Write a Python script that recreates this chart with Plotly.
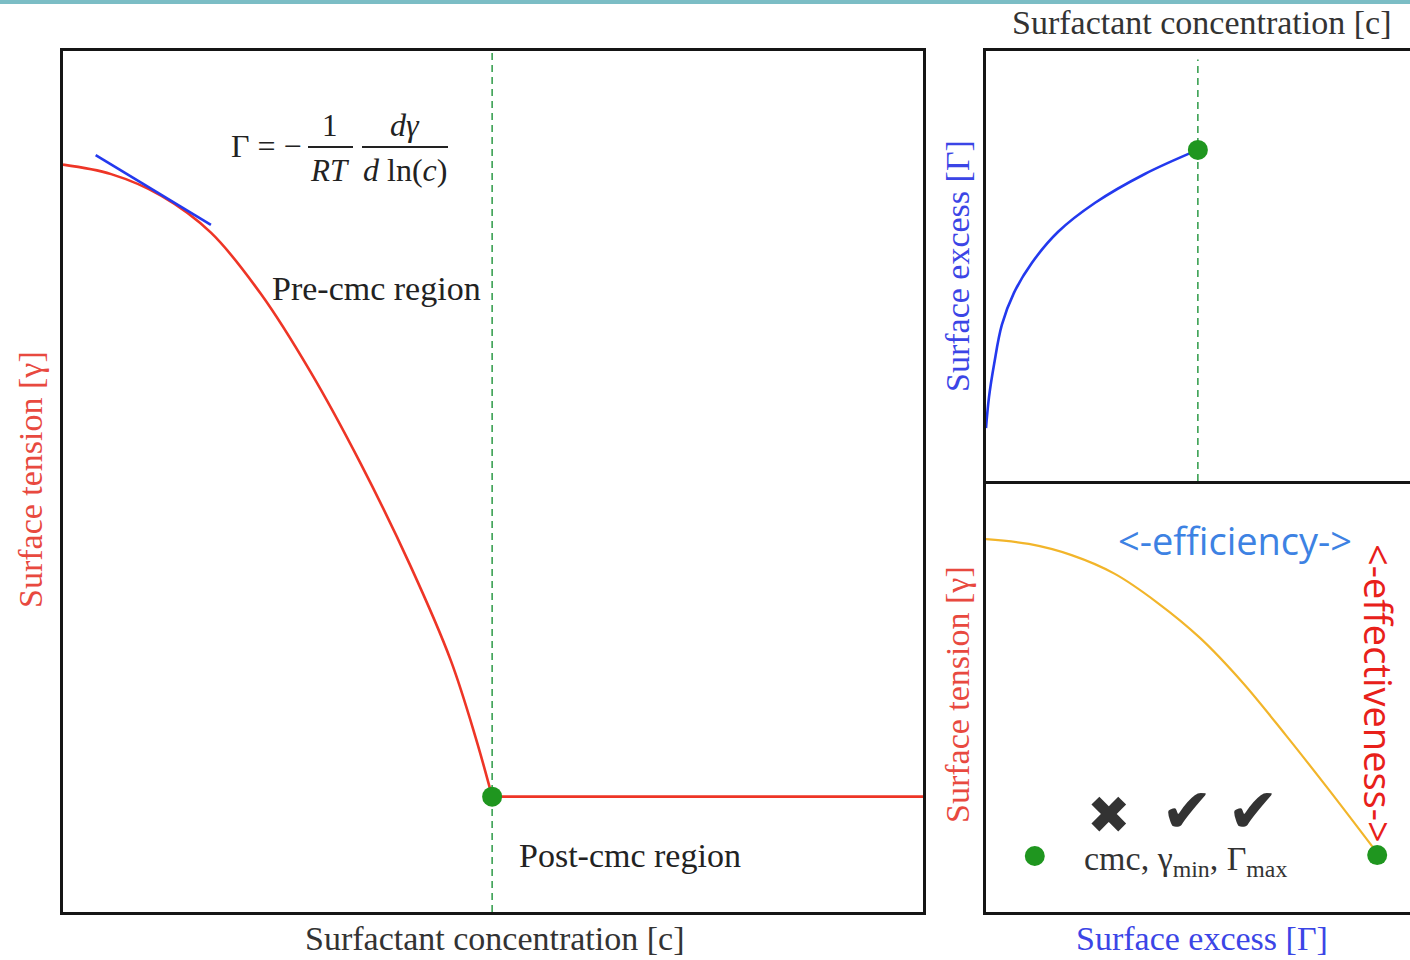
import plotly.graph_objects as go

# ---------------- data (normalised units) ----------------
# main panel: surface tension vs surfactant concentration
conc_pre = [0.000, 0.056, 0.114, 0.172, 0.230, 0.288, 0.346, 0.404, 0.451, 0.480, 0.499]
tension_pre = [0.868, 0.857, 0.832, 0.789, 0.718, 0.627, 0.521, 0.402, 0.292, 0.202, 0.134]
conc_post = [0.499, 1.0]
tension_post = [0.134, 0.134]
tangent_conc = [0.038, 0.172]
tangent_tension = [0.879, 0.798]
cmc_main = 0.499
gamma_min = 0.134

# top-right panel: surface excess vs concentration
conc_excess = [0.000, 0.007, 0.019, 0.037, 0.065, 0.107, 0.168, 0.255, 0.371, 0.495]
excess_vals = [0.123, 0.195, 0.272, 0.363, 0.437, 0.507, 0.579, 0.647, 0.714, 0.770]
cmc_excess = 0.495
excess_max = 0.770

# bottom-right panel: surface tension vs surface excess
excess_b = [0.0, 0.1, 0.2, 0.3, 0.4, 0.5, 0.6, 0.7, 0.8, 0.914]
tension_b = [0.865, 0.854, 0.828, 0.785, 0.718, 0.636, 0.532, 0.411, 0.285, 0.137]
legend_dot_x = [0.114]
legend_dot_y = [0.130]
end_dot_x = [0.914]
end_dot_y = [0.132]

W, H = 1410, 960
def px(x):
    return x / W
def py(y):
    return 1 - y / H

RED = "#ee3526"
BLUE = "#2339ee"
GREEN = "#1f961f"
DASHGREEN = "#3aa052"
ORANGE = "#f2b52a"
DARK = "#222222"
SERIF = "Liberation Serif, Times New Roman, serif"
SANS = "Open Sans, sans-serif"

fig = go.Figure()

# main panel
fig.add_trace(go.Scatter(x=[cmc_main, cmc_main], y=[0, 1], mode="lines",
                         line=dict(color=DASHGREEN, width=1.6, dash="7px,5px"),
                         xaxis="x", yaxis="y", hoverinfo="skip"))
fig.add_trace(go.Scatter(x=conc_pre, y=tension_pre, mode="lines",
                         line=dict(color=RED, width=2.6, shape="spline", smoothing=1.0),
                         xaxis="x", yaxis="y"))
fig.add_trace(go.Scatter(x=conc_post, y=tension_post, mode="lines",
                         line=dict(color=RED, width=2.6), xaxis="x", yaxis="y"))
fig.add_trace(go.Scatter(x=tangent_conc, y=tangent_tension, mode="lines",
                         line=dict(color=BLUE, width=2.6), xaxis="x", yaxis="y"))
fig.add_trace(go.Scatter(x=[cmc_main], y=[gamma_min], mode="markers",
                         marker=dict(color=GREEN, size=20), xaxis="x", yaxis="y",
                         cliponaxis=False))

# top-right panel
fig.add_trace(go.Scatter(x=[cmc_excess, cmc_excess], y=[0, 0.98], mode="lines",
                         line=dict(color=DASHGREEN, width=1.6, dash="7px,5px"),
                         xaxis="x2", yaxis="y2", hoverinfo="skip"))
fig.add_trace(go.Scatter(x=conc_excess, y=excess_vals, mode="lines",
                         line=dict(color=BLUE, width=2.6, shape="spline", smoothing=1.0),
                         xaxis="x2", yaxis="y2"))
fig.add_trace(go.Scatter(x=[cmc_excess], y=[excess_max], mode="markers",
                         marker=dict(color=GREEN, size=20), xaxis="x2", yaxis="y2",
                         cliponaxis=False))

# bottom-right panel
fig.add_trace(go.Scatter(x=excess_b, y=tension_b, mode="lines",
                         line=dict(color=ORANGE, width=2.2, shape="spline", smoothing=1.0),
                         xaxis="x3", yaxis="y3"))
fig.add_trace(go.Scatter(x=legend_dot_x + end_dot_x, y=legend_dot_y + end_dot_y, mode="markers",
                         marker=dict(color=GREEN, size=20), xaxis="x3", yaxis="y3",
                         cliponaxis=False))

ax_common = dict(showgrid=False, zeroline=False, showticklabels=False, ticks="",
                 showline=True, linecolor="#151515", linewidth=3)

x_right_max = (W - 986) / 428.0

fig.update_layout(
    width=W, height=H, showlegend=False,
    margin=dict(l=0, r=0, t=0, b=0),
    paper_bgcolor="white", plot_bgcolor="white",
    xaxis=dict(domain=[px(63), px(923)], range=[0, 1], mirror=True, anchor="y", **ax_common),
    yaxis=dict(domain=[py(912), py(51)], range=[0, 1], mirror=True, anchor="x", **ax_common),
    xaxis2=dict(domain=[px(986), 1.0], range=[0, x_right_max], mirror=True, anchor="y2", **ax_common),
    yaxis2=dict(domain=[py(481), py(51)], range=[0, 1], mirror=False, anchor="x2", **ax_common),
    xaxis3=dict(domain=[px(986), 1.0], range=[0, x_right_max], mirror=False, anchor="y3", **ax_common),
    yaxis3=dict(domain=[py(912), py(481)], range=[0, 1], mirror=False, anchor="x3", **ax_common),
)

shapes = [
    dict(type="rect", xref="paper", yref="paper", x0=0, x1=1, y0=py(4), y1=1,
         fillcolor="#7bbdc5", line=dict(width=0)),
    # fraction bars of the Gibbs equation
    dict(type="line", xref="paper", yref="paper", x0=px(308), x1=px(353), y0=py(147), y1=py(147),
         line=dict(color=DARK, width=2)),
    dict(type="line", xref="paper", yref="paper", x0=px(362), x1=px(448), y0=py(147), y1=py(147),
         line=dict(color=DARK, width=2)),
]
fig.update_layout(shapes=shapes)

def ann(text, x, y, size=34, color=DARK, family=SERIF, angle=0, xanchor="center", yanchor="middle"):
    return dict(text=text, x=px(x), y=py(y), xref="paper", yref="paper", showarrow=False,
                font=dict(size=size, color=color, family=family), textangle=angle,
                xanchor=xanchor, yanchor=yanchor)

annotations = [
    # axis titles
    ann("Surface tension [γ]", 30, 480, color="#e8493f", angle=-90),
    ann("Surfactant concentration [c]", 494, 938, color="#333333"),
    ann("Surfactant concentration [c]", 1201, 22, color="#333333"),
    ann("Surface excess [Γ]", 957, 266, color="#3b45e6", angle=-90),
    ann("Surface tension [γ]", 957, 695, color="#e8493f", angle=-90),
    ann("Surface excess [Γ]", 1202, 938, color="#3b45e6"),
    # region labels
    ann("Pre-cmc region", 376, 288),
    ann("Post-cmc region", 630, 855),
    # Gibbs equation
    ann("Γ = −", 229, 146, size=32, xanchor="left"),
    ann("1", 330, 125, size=31),
    ann("<i>RT</i>", 330, 170, size=31),
    ann("<i>dγ</i>", 405, 125, size=32),
    ann("<i>d</i> ln(<i>c</i>)", 405, 170, size=32),
    # efficiency / effectiveness
    ann("<-efficiency->", 1235, 540, size=38, color="#3d82e3", family=SANS),
    ann("<-effectiveness->", 1379, 693, size=38, color="#e8201a", family=SANS, angle=90),
    # cmc / gamma_min / Gamma_max legend
    ann("cmc, γ<sub>min</sub>, Γ<sub>max</sub>", 1185, 861, size=34, color="#333333"),
    ann("✖", 1109, 815, size=52, color="#333333", family="DejaVu Sans"),
    ann("✔", 1187, 810, size=62, color="#333333", family="DejaVu Sans"),
    ann("✔", 1253, 810, size=62, color="#333333", family="DejaVu Sans"),
]
fig.update_layout(annotations=annotations)

fig.write_html("out.html")
